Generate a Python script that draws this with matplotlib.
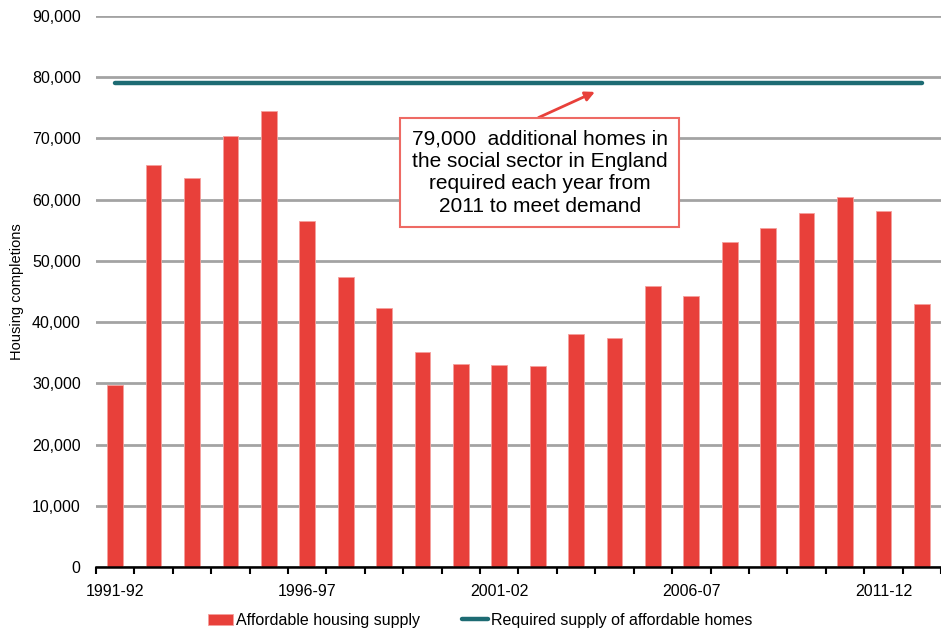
import matplotlib.pyplot as plt
import numpy as np

years = [
    "1991-92", "1992-93", "1993-94", "1994-95", "1995-96", "1996-97",
    "1997-98", "1998-99", "1999-00", "2000-01", "2001-02", "2002-03",
    "2003-04", "2004-05", "2005-06", "2006-07", "2007-08", "2008-09",
    "2009-10", "2010-11", "2011-12", "2012-13",
]
affordable_supply = [
    29700, 65700, 63600, 70400, 74500, 56500, 47400, 42300, 35100, 33200,
    33000, 32900, 38100, 37400, 45900, 44200, 53100, 55400, 57900, 60400,
    58100, 42900,
]
required_supply = 79000
shown_labels = ["1991-92", "1996-97", "2001-02", "2006-07", "2011-12"]

plt.rcParams["font.family"] = ["Liberation Sans", "DejaVu Sans"]

bar_color = "#E8403A"
line_color = "#1D6B73"

fig = plt.figure(figsize=(9.41, 6.39), dpi=100)
ax = fig.add_axes([0.102, 0.1127, 0.898, 0.8623])

x = np.arange(len(years))
bars = ax.bar(x, affordable_supply, width=0.41, color=bar_color,
              edgecolor="#F5A09C", linewidth=0.6, zorder=3,
              label="Affordable housing supply")
(req_line,) = ax.plot([x[0], x[-1]], [required_supply, required_supply],
                      color=line_color, linewidth=3.2,
                      solid_capstyle="round", zorder=4,
                      label="Required supply of affordable homes")

ax.set_xlim(-0.5, 21.28)
ax.set_ylim(0, 90000)
ax.set_yticks(np.arange(0, 90001, 10000))
ax.set_yticklabels([f"{v:,}" for v in range(0, 90001, 10000)], fontsize=11.5)
ax.yaxis.grid(True, color="#A3A3A3", linewidth=2, zorder=0)
ax.tick_params(axis="y", length=0, pad=11)

# category boundaries carry the tick marks, labels sit under every fifth bar
ax.set_xticks(np.arange(-0.5, len(years), 1.0))
ax.set_xticklabels([])
ax.set_xticks([years.index(lbl) for lbl in shown_labels], minor=True)
ax.set_xticklabels(shown_labels, minor=True, fontsize=11.5)
ax.tick_params(axis="x", which="major", length=5, width=1.5, color="black")
ax.tick_params(axis="x", which="minor", length=0, pad=12)

for side in ["left", "right", "top"]:
    ax.spines[side].set_visible(False)
ax.spines["bottom"].set_linewidth(1.8)
ax.spines["bottom"].set_zorder(5)

ax.set_ylabel("Housing completions", fontsize=10.5)
ax.yaxis.set_label_coords(-0.085, 0.5)

note = ("79,000  additional homes in\nthe social sector in England\n"
        "required each year from\n2011 to meet demand")
ax.annotate("", xy=(12.49, 77600), xytext=(11.02, 73400),
            arrowprops=dict(arrowstyle="-|>", color="#E8403A", lw=2,
                            mutation_scale=14, shrinkA=0, shrinkB=0),
            zorder=6)
ax.text(11.05, 64400, note, ha="center", va="center", fontsize=15,
        linespacing=1.22, zorder=7,
        bbox=dict(boxstyle="square,pad=0.55", facecolor="white",
                  edgecolor="#EE6A64", linewidth=1.5))

fig.legend([bars, req_line],
           ["Affordable housing supply", "Required supply of affordable homes"],
           loc="lower center", bbox_to_anchor=(0.51, -0.005), ncol=2,
           frameon=False, fontsize=11.5, handlelength=1.6, handletextpad=0.2,
           columnspacing=2.6)

fig.savefig("out.png", dpi=100)
plt.close(fig)
